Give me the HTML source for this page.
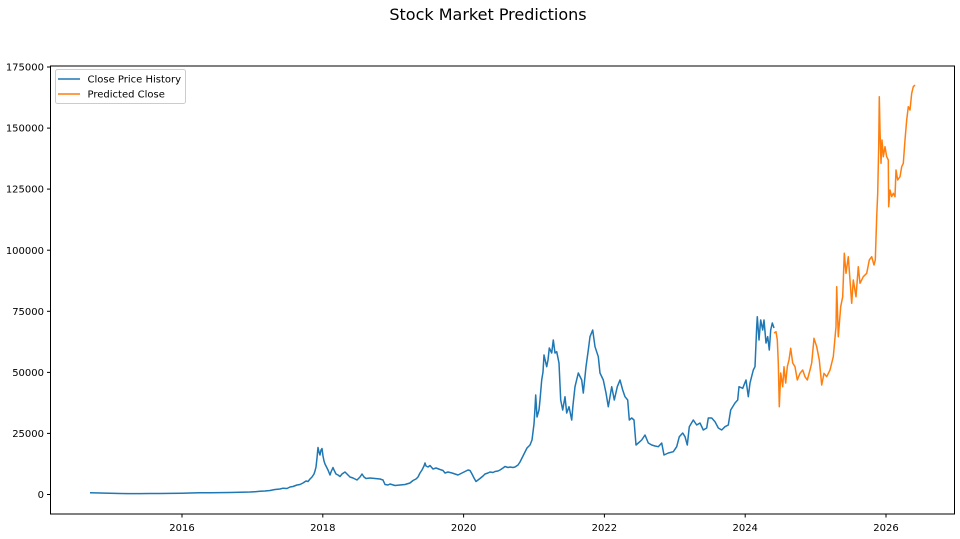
<!DOCTYPE html>
<html>
<head>
<meta charset="utf-8">
<style>
html,body{margin:0;padding:0;background:#fff;}
svg{display:block;}
text{font-family:"DejaVu Sans","Liberation Sans",sans-serif;fill:#000;}
</style>
</head>
<body>
<svg width="960" height="539" viewBox="0 0 960 539" xmlns="http://www.w3.org/2000/svg">
<rect width="960" height="539" fill="#fff"/>
<text x="488" y="20" font-size="16" text-anchor="middle">Stock Market Predictions</text>

<!-- series -->
<polyline fill="none" stroke="#1f77b4" stroke-width="1.5" stroke-linejoin="round" points="90,492.7 100,493 110,493.3 120,493.5 130,493.6 140,493.6 150,493.5 160,493.5 170,493.4 182,493.2 190,493 200,492.8 210,492.8 220,492.6 230,492.5 240,492.3 250,492 255,491.7 260,491.3 265,491 270,490.5 275,489.5 280,489 283,488.2 287,488.5 290,487 293,486.5 297,485 300,484.5 303,483 306,481 308,481.5 310,479 312,477 314,474 315,471 316,467 317,458 318,447.5 319,452 320,455 321,450 322,448.5 323,456 324,461 325,464 326,466 328,470 330,475 331,472 333,467.5 334,470 336,474 338,475 340,476.5 342,474 345,472 347,474 350,477 353,478 357,480 360,477 362,474 364,477 366,478.5 370,478 375,478.5 380,479 383,480 385,484.5 388,485 390,484 395,485.5 400,485 405,484.5 410,483 413,480.5 416,479 418,477 420,473 422,470 424,466 425,463 426,466 428,467 430,465.5 433,469 436,468 440,469.5 443,470.5 445,473 448,472 452,473 455,474 458,475 461,473.5 465,471.5 468,470 470,470.5 472,474 474,478 476,481.5 478,480 480,478.5 483,476 485,474 488,473 490,472 493,472.5 495,471.5 498,471 500,470 503,468 505,466.5 508,467.5 510,467 513,467.5 515,467 518,465 520,462 522,458 524,454 526,450 527,448 530,445 532,440 533,432 534,424 535,408 535.7,395 537,417 539,410 540,400 541.7,380 543,372 544,355 546.7,366.7 548,360 549.3,348 551.7,353 553.3,340 555,353 556.7,351.7 559,363 560.7,400 562.7,410 565,396.7 566.7,413 569,406.7 571.7,420 573,405 575,386.7 578.3,373 581.7,380 583.3,393 586,366.7 588.3,350 590,336.7 592.7,330 595,346.7 598.3,356.7 600,373 603.3,380 606,393 608.3,406.7 611.7,386.7 614.3,400 617.3,386.7 620,380 622.7,390 625,396.7 627.7,400 629.3,420 631.7,418 634,420 636,445 638.3,443 641.7,440 645,435 648.3,443 651.7,445 655,446 658.3,446.7 661.7,443 664,455 668.3,453 673.3,451.7 676.7,446.7 679.3,436.7 682.7,433 685,436.7 687.3,445 689.3,426.7 693.3,420 696.7,425 700,423 703.3,430 706.7,428 708.3,418 711.7,418 715,421.7 718.3,428 721.7,430 725,426.7 728.3,425 730.7,410 735,403 737.7,400 739,386.7 742.7,388.3 746,380 748.3,396.7 750,383 753.3,370 755,366.7 756.7,326.7 757.3,316.7 759,340 760.7,320 762.7,330 764,320 766,343 767.7,336.7 769.3,350 770.7,330 772.3,323 774,328"/>
<polyline fill="none" stroke="#ff7f0e" stroke-width="1.5" stroke-linejoin="round" points="774,333 776,331.7 777.3,340 778.3,363 779.3,406.7 780.7,373 782.7,386.7 784,366.7 785.7,383 787.3,366.7 789,360 790.7,348.3 792.7,363 795,366.7 797.3,380 800,373.3 802.7,370 805,376.7 807.3,380 810,370 811.7,363 814,338.3 816.7,346.7 819.3,360 821.7,385 824,373.3 826.7,376.7 830,370 833.3,356.7 836,326.7 836.7,286.7 838.3,336.7 840.7,306.7 842.7,296.7 844.3,253.3 846,273.3 848.3,256.7 850,280 851.7,303.3 853.3,280 856,296.7 858.3,266.7 860,283.3 863.3,276.7 866.7,273.3 869.3,260 871.7,256.7 874,265 875.3,260 876.7,216.7 877.7,193.3 878.7,146.7 879.3,96.7 880,130 881,163.3 882,140 883.3,156.7 885,146.7 886.7,156.7 888.3,160 888.7,206.7 890,190 891.7,196.7 893.3,193.3 895,196.7 896,170 897.7,180 900,176.7 901.7,166.7 903.3,163.3 905,140 906.7,120 908.3,106.7 910,110 911.7,93.3 913.3,86.7 915,85"/>

<!-- axes frame -->
<rect x="50.5" y="66" width="904" height="448" fill="none" stroke="#000" stroke-width="1"/>

<!-- y ticks -->
<g stroke="#000" stroke-width="1">
<line x1="47" y1="67" x2="50.5" y2="67"/>
<line x1="47" y1="128.1" x2="50.5" y2="128.1"/>
<line x1="47" y1="189.1" x2="50.5" y2="189.1"/>
<line x1="47" y1="250.2" x2="50.5" y2="250.2"/>
<line x1="47" y1="311.3" x2="50.5" y2="311.3"/>
<line x1="47" y1="372.4" x2="50.5" y2="372.4"/>
<line x1="47" y1="433.4" x2="50.5" y2="433.4"/>
<line x1="47" y1="494.5" x2="50.5" y2="494.5"/>
</g>
<g font-size="10" text-anchor="end">
<text x="44" y="70.6">175000</text>
<text x="44" y="131.7">150000</text>
<text x="44" y="192.7">125000</text>
<text x="44" y="253.8">100000</text>
<text x="44" y="314.9">75000</text>
<text x="44" y="376">50000</text>
<text x="44" y="437">25000</text>
<text x="44" y="498.1">0</text>
</g>

<!-- x ticks -->
<g stroke="#000" stroke-width="1">
<line x1="182" y1="514" x2="182" y2="517.5"/>
<line x1="322.8" y1="514" x2="322.8" y2="517.5"/>
<line x1="463.6" y1="514" x2="463.6" y2="517.5"/>
<line x1="604.4" y1="514" x2="604.4" y2="517.5"/>
<line x1="745.2" y1="514" x2="745.2" y2="517.5"/>
<line x1="886" y1="514" x2="886" y2="517.5"/>
</g>
<g font-size="10" text-anchor="middle">
<text x="182" y="531">2016</text>
<text x="322.8" y="531">2018</text>
<text x="463.6" y="531">2020</text>
<text x="604.4" y="531">2022</text>
<text x="745.2" y="531">2024</text>
<text x="886" y="531">2026</text>
</g>

<!-- legend -->
<rect x="55.5" y="69.5" width="130" height="34" rx="2" ry="2" fill="#fff" fill-opacity="0.8" stroke="#cccccc" stroke-width="1"/>
<line x1="58" y1="79" x2="80" y2="79" stroke="#1f77b4" stroke-width="1.5"/>
<line x1="58" y1="94" x2="80" y2="94" stroke="#ff7f0e" stroke-width="1.5"/>
<g font-size="10">
<text x="87.5" y="82.6">Close Price History</text>
<text x="87.5" y="97.6">Predicted Close</text>
</g>
</svg>
</body>
</html>
